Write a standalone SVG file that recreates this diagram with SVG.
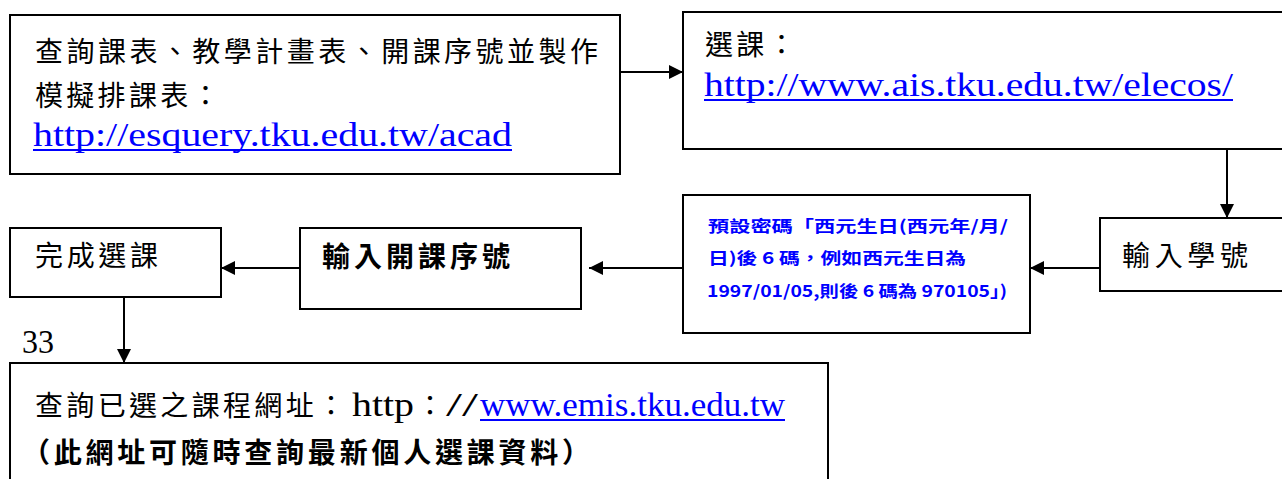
<svg xmlns="http://www.w3.org/2000/svg" width="1282" height="479" viewBox="0 0 1282 479">
<style>
.box{fill:#fff;stroke:#000;stroke-width:2}
.cj{font-family:"Noto Sans CJK TC","Noto Sans CJK SC",sans-serif;font-size:28px;fill:#000}
.bd{font-weight:bold}
.url{font-family:"Liberation Serif",serif;font-size:33px;fill:#0000ff}
.lat{font-family:"Liberation Serif",serif;font-size:33px;fill:#000}
.ul{stroke:#0000ff;stroke-width:2}
.pw{font-family:"Noto Sans CJK TC","Noto Sans CJK SC",sans-serif;font-size:16px;font-weight:bold;fill:#0000ff}
.conn{stroke:#000;stroke-width:2;fill:none}
</style>
<defs>
<marker id="ah" viewBox="0 0 14 14" refX="14" refY="7" markerWidth="14" markerHeight="14" markerUnits="userSpaceOnUse" orient="auto">
<path d="M0,0 L14,7 L0,14 Z" fill="#000"/>
</marker>
</defs>
<rect width="1282" height="479" fill="#fff"/>

<g id="node-query">
<rect class="box" x="10" y="15" width="610" height="159"/>
<text class="cj" x="35" y="62" textLength="563" lengthAdjust="spacing">查詢課表、教學計畫表、開課序號並製作</text>
<text class="cj" x="35" y="106" letter-spacing="3.3">模擬排課表：</text>
<text class="url" x="33" y="146" textLength="479" lengthAdjust="spacingAndGlyphs">http://esquery.tku.edu.tw/acad</text>
<line class="ul" x1="33" y1="150" x2="512" y2="150"/>
</g>

<g id="node-select">
<rect class="box" x="683" y="12" width="610" height="137"/>
<text class="cj" x="705" y="55" letter-spacing="3.3">選課：</text>
<text class="url" x="704" y="96" textLength="529" lengthAdjust="spacingAndGlyphs">http://www.ais.tku.edu.tw/elecos/</text>
<line class="ul" x1="704" y1="100" x2="1233" y2="100"/>
</g>

<g id="node-studentid">
<rect class="box" x="1100" y="218" width="200" height="73"/>
<text class="cj" x="1122" y="266" textLength="126" lengthAdjust="spacing">輸入學號</text>
</g>

<g id="node-password">
<rect class="box" x="683" y="195" width="347" height="138"/>
<text class="pw" x="708" y="232" textLength="300" lengthAdjust="spacingAndGlyphs">預設密碼「西元生日(西元年/月/</text>
<text class="pw" x="708" y="264" textLength="258" lengthAdjust="spacingAndGlyphs">日)後 6 碼，例如西元生日為</text>
<text class="pw" x="707" y="297" textLength="300" lengthAdjust="spacingAndGlyphs">1997/01/05,則後 6 碼為 970105」)</text>
</g>

<g id="node-course">
<rect class="box" x="300" y="228" width="281" height="81"/>
<text class="cj bd" x="322" y="267" textLength="188" lengthAdjust="spacing">輸入開課序號</text>
</g>

<g id="node-done">
<rect class="box" x="10" y="228" width="211" height="69"/>
<text class="cj" x="35" y="266" textLength="123" lengthAdjust="spacing">完成選課</text>
</g>

<g id="node-page">
<text class="lat" x="22" y="353" font-size="26" textLength="32" lengthAdjust="spacingAndGlyphs">33</text>
</g>

<g id="node-check">
<rect class="box" x="10" y="363" width="818" height="130"/>
<text class="cj" x="35" y="416" textLength="310" lengthAdjust="spacing">查詢已選之課程網址：</text>
<text class="lat" x="352" y="416" textLength="62" lengthAdjust="spacingAndGlyphs">http</text>
<text class="cj" x="416" y="416">：</text>
<text class="lat" x="446" y="416" textLength="32" lengthAdjust="spacingAndGlyphs">//</text>
<text class="url" x="480" y="416" textLength="305" lengthAdjust="spacingAndGlyphs">www.emis.tku.edu.tw</text>
<line class="ul" x1="480" y1="420" x2="785" y2="420"/>
<text class="cj bd" x="22" y="463" textLength="568" lengthAdjust="spacing">（此網址可隨時查詢最新個人選課資料）</text>
</g>

<g id="connectors">
<line class="conn" x1="620" y1="72" x2="683" y2="72" marker-end="url(#ah)"/>
<line class="conn" x1="1227" y1="149" x2="1227" y2="218" marker-end="url(#ah)"/>
<line class="conn" x1="1100" y1="268" x2="1030" y2="268" marker-end="url(#ah)"/>
<line class="conn" x1="683" y1="268" x2="589" y2="268" marker-end="url(#ah)"/>
<line class="conn" x1="300" y1="268" x2="221" y2="268" marker-end="url(#ah)"/>
<line class="conn" x1="124" y1="297" x2="124" y2="363" marker-end="url(#ah)"/>
</g>
</svg>
